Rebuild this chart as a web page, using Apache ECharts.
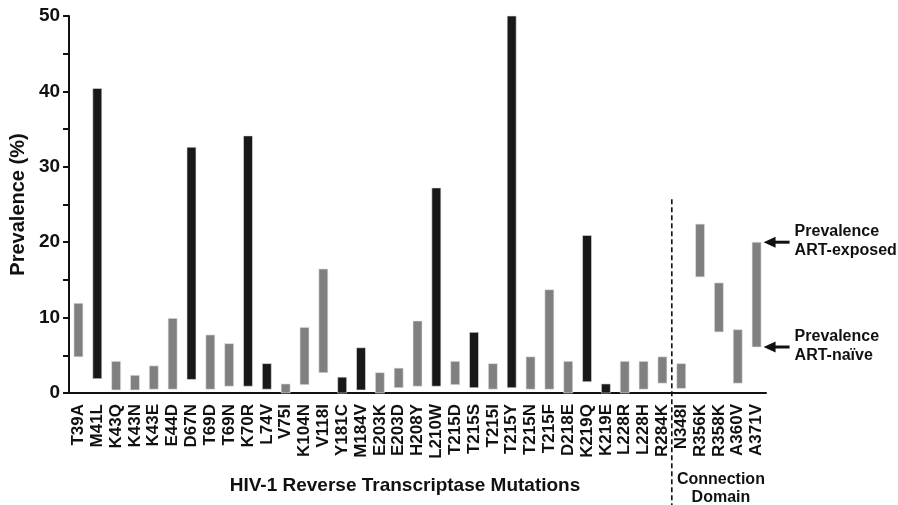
<!DOCTYPE html>
<html><head><meta charset="utf-8">
<script src="https://cdn.jsdelivr.net/npm/echarts@6/dist/echarts.min.js"></script>
<style>html,body{margin:0;padding:0;background:#fff}#c{width:898px;height:505px}</style>
</head><body><div id="c"></div>
<script>
const categories = ['T39A','M41L','K43Q','K43N','K43E','E44D','D67N','T69D','T69N','K70R','L74V','V75I','K104N','V118I','Y181C','M184V','E203K','E203D','H208Y','L210W','T215D','T215S','T215I','T215Y','T215N','T215F','D218E','K219Q','K219E','L228R','L228H','R284K','N348I','R356K','R358K','A360V','A371V'];
const artNaive   = [4.8,1.9,0.4,0.4,0.5,0.5,1.8,0.5,0.9,0.9,0.5,0.0,1.1,2.7,0.0,0.4,0.0,0.7,0.9,0.9,1.1,0.7,0.5,0.7,0.5,0.5,0.0,1.5,0.0,0.0,0.5,1.3,0.6,15.4,8.1,1.3,6.1];
const artExposed = [11.9,40.4,4.2,2.35,3.6,9.9,32.6,7.7,6.55,34.1,3.9,1.2,8.7,16.45,2.1,6.0,2.7,3.3,9.55,27.2,4.2,8.05,3.9,50.0,4.8,13.7,4.2,20.9,1.2,4.2,4.2,4.8,3.9,22.4,14.6,8.4,20.0];
const majorDRM   = [0,1,0,0,0,0,1,0,0,1,1,0,0,0,1,1,0,0,0,1,0,1,0,1,0,0,0,1,1,0,0,0,0,0,0,0,0];
const yTicks = [0,10,20,30,40,50];
const dividerTop = 25.7;

const FONT = '"Liberation Sans", Arial, sans-serif';
const INK = '#111';
const chart = echarts.init(document.getElementById('c'), null, {renderer:'canvas'});
chart.setOption({
  animation:false,
  grid:{left:67, right:132, top:16, bottom:112, containLabel:false},
  xAxis:{
    type:'category', data:categories, boundaryGap:true,
    axisLine:{lineStyle:{color:INK, width:2}},
    axisTick:{alignWithLabel:true, length:6, lineStyle:{color:INK, width:2}},
    axisLabel:{rotate:90, interval:0, margin:11, color:INK, fontFamily:FONT, fontWeight:'bold', fontSize:17}
  },
  yAxis:{
    type:'value', min:yTicks[0], max:yTicks[yTicks.length-1], interval:10,
    name:'Prevalence (%)', nameLocation:'middle', nameGap:36, nameRotate:90,
    nameTextStyle:{color:INK, fontFamily:FONT, fontWeight:'bold', fontSize:20},
    axisLine:{show:true, lineStyle:{color:INK, width:2}},
    axisTick:{show:true, length:6, lineStyle:{color:INK, width:2}},
    minorTick:{show:true, splitNumber:2, length:6, lineStyle:{color:INK, width:2}},
    splitLine:{show:false},
    axisLabel:{margin:9, color:INK, fontFamily:FONT, fontWeight:'bold', fontSize:19}
  },
  series:[{
    type:'custom',
    data:categories.map((c,i)=>[i, artNaive[i], artExposed[i], majorDRM[i]]),
    encode:{x:0, y:[1,2]},
    renderItem:function(params, api){
      const i = api.value(0);
      const lo = api.coord([i, api.value(1)]);
      const hi = api.coord([i, api.value(2)]);
      const w = 9;
      return {type:'rect', shape:{x:lo[0]-w/2, y:hi[1], width:w, height:Math.max(lo[1]-hi[1],1)},
        style:{fill: api.value(3) ? '#181818' : '#808080', stroke:'#e6e6e6', lineWidth:0.6}};
    }
  }]
});

const xA = chart.convertToPixel({xAxisIndex:0}, categories[31]);
const xB = chart.convertToPixel({xAxisIndex:0}, categories[32]);
const xDiv = (xA + xB) / 2;
const yDivTop = chart.convertToPixel({yAxisIndex:0}, dividerTop);
const last = categories.length - 1;
const xLast = chart.convertToPixel({xAxisIndex:0}, categories[last]);
const yHi = chart.convertToPixel({yAxisIndex:0}, artExposed[last]);
const yLo = chart.convertToPixel({yAxisIndex:0}, artNaive[last]);

function arrow(y){
  const tip = xLast + 7, tail = xLast + 33;
  return [
    {type:'line', shape:{x1:tip+8, y1:y, x2:tail, y2:y}, style:{stroke:INK, lineWidth:3}},
    {type:'polygon', shape:{points:[[tip,y],[tip+12,y-5.5],[tip+12,y+5.5]]}, style:{fill:INK}}
  ];
}
chart.setOption({graphic:[
  {type:'line', shape:{x1:xDiv, y1:yDivTop, x2:xDiv, y2:505}, style:{stroke:INK, lineWidth:1.6, lineDash:[5,3]}},
  ...arrow(yHi), ...arrow(yLo),
  {type:'text', x:xLast+38, y:yHi-20, style:{text:'Prevalence\nART-exposed', fill:INK, font:'bold 16px '+FONT, lineHeight:19}},
  {type:'text', x:xLast+38, y:yLo-20, style:{text:'Prevalence\nART-naïve', fill:INK, font:'bold 16px '+FONT, lineHeight:19}},
  {type:'text', x:405, y:486, style:{text:'HIV-1 Reverse Transcriptase Mutations', fill:INK, font:'bold 19px '+FONT, align:'center', verticalAlign:'middle'}},
  {type:'text', x:(xB + xLast)/2 + 2, y:489, style:{text:'Connection\nDomain', fill:INK, font:'bold 16px '+FONT, align:'center', verticalAlign:'middle', lineHeight:18}}
]});
</script>
</body></html>
